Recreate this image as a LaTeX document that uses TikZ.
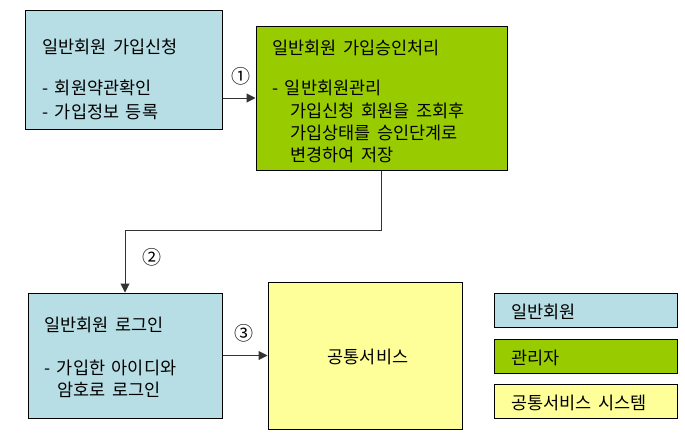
\documentclass[tikz,border=0pt]{standalone}
\usepackage{fontspec}
\setmainfont[WordSpace=1.7]{Noto Sans CJK KR}
\usetikzlibrary{arrows.meta}

\definecolor{memberblue}{RGB}{183,222,228}
\definecolor{admingreen}{RGB}{153,204,0}
\definecolor{serviceyellow}{RGB}{255,255,153}

\tikzset{
  box/.style={draw=black, line width=1pt, minimum width=#1, inner sep=0pt},
  txt/.style={anchor=west, inner sep=0pt, font=\fontsize{17.5}{20}\selectfont},
  num/.style={inner sep=0pt, font=\fontsize{19}{20}\selectfont},
  flow/.style={draw=black!80, line width=1pt, -{Triangle[length=9pt,width=9pt]}}
}

\begin{document}
\begin{tikzpicture}[x=1pt,y=-1pt]
        \useasboundingbox (0,0) rectangle (685,445);
        % Boxes of the process
        \node[box=197pt, minimum height=119pt, fill=memberblue] (apply) at (124,69.5) {};
        \node[box=251pt, minimum height=144pt, fill=admingreen] (approve) at (381.5,98) {};
        \node[box=194pt, minimum height=125pt, fill=memberblue] (login) at (125,355.5) {};
        \node[box=194pt, minimum height=147pt, fill=serviceyellow] (service) at (365,355.5) {};
        % Legend
        \node[box=183pt, minimum height=34pt, fill=memberblue] (legmember) at (585.5,310) {};
        \node[box=183pt, minimum height=34pt, fill=admingreen] (legadmin) at (585.5,356) {};
        \node[box=183pt, minimum height=34pt, fill=serviceyellow] (legservice) at (585.5,401) {};
        % Texts in the boxes
        \node[txt] (applytitle) at (42,47) {일반회원 가입신청};
        \node[txt] (applya) at (42,88) {- 회원약관확인};
        \node[txt] (applyb) at (42,112) {- 가입정보 등록};
        \node[txt] (approvetitle) at (272,48) {일반회원 가입승인처리};
        \node[txt] (approvea) at (272,88) {- 일반회원관리};
        \node[txt] (approveb) at (290,111) {가입신청 회원을 조회후};
        \node[txt] (approvec) at (290,133) {가입상태를 승인단계로};
        \node[txt] (approved) at (290,155) {변경하여 저장};
        \node[txt] (logintitle) at (44,325) {일반회원 로그인};
        \node[txt] (logina) at (44,368) {- 가입한 아이디와};
        \node[txt] (loginb) at (57,390) {암호로 로그인};
        \node[txt, anchor=center] (servicetitle) at (368,357) {공통서비스};
        \node[txt] (legmembertxt) at (511,312) {일반회원};
        \node[txt] (legadmintxt) at (511,358) {관리자};
        \node[txt] (legservicetxt) at (511,403) {공통서비스 시스템};
        % Connectors
        \coordinate (bend) at (0,230);
        \draw[flow] (apply.east |- approve.west) -- (approve.west);
        \draw[flow] (approve.south) |- (login.north |- bend) -- (login.north);
        \draw[flow] (login.east) -- (service.west);
        % Step numbers
        \node[num] (stepone) at (241,76) {①};
        \node[num] (steptwo) at (152,257) {②};
        \node[num] (stepthree) at (244,333) {③};
    \end{tikzpicture}
\end{document}
